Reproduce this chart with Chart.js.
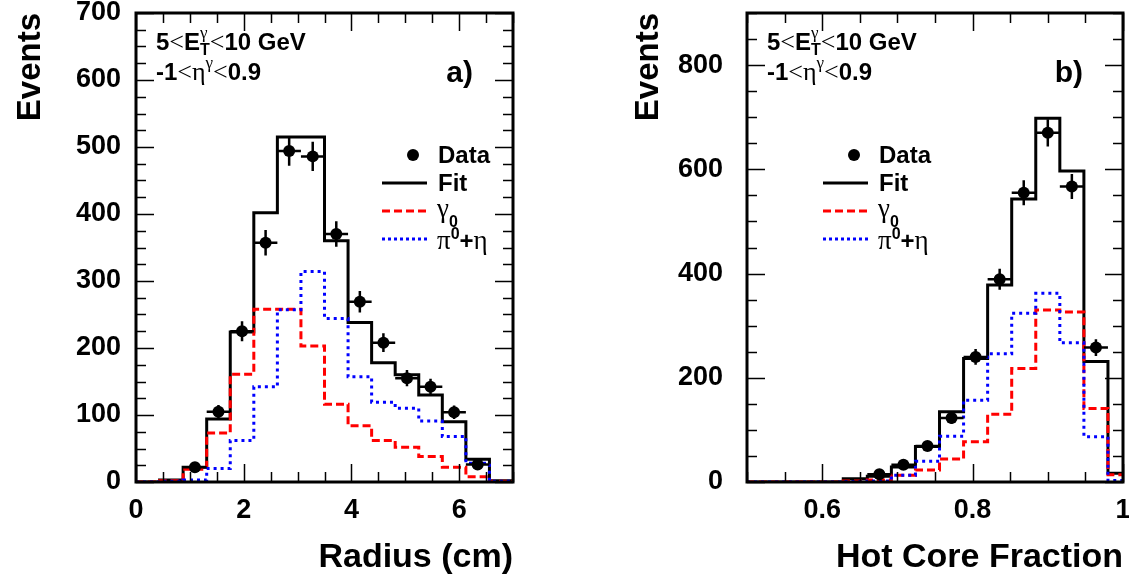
<!DOCTYPE html>
<html>
<head>
<meta charset="utf-8">
<script src="https://cdn.jsdelivr.net/npm/chart.js@4.4.1/dist/chart.umd.min.js"></script>
<style>
  html, body { margin: 0; padding: 0; background: #fff; }
  body { width: 1129px; height: 583px; position: relative; overflow: hidden; }
  .panel { position: absolute; top: 0; }
  #left { left: 0; }
  #right { left: 618px; }
</style>
</head>
<body>
<div class="panel" id="left"><canvas id="radiusChart" width="560" height="583"></canvas></div>
<div class="panel" id="right"><canvas id="hotCoreChart" width="511" height="583"></canvas></div>
<script>
// ---- panel a) shower radius ----
const radiusEdges = [0, 0.4375, 0.875, 1.3125, 1.75, 2.1875, 2.625, 3.0625, 3.5,
                     3.9375, 4.375, 4.8125, 5.25, 5.6875, 6.125, 6.5625, 7];
const radiusData  = [null, null, 22, 105, 225, 357, 494, 486, 370, 269, 208, 155, 142, 104, 26, null];
const radiusErr   = [0, 0, 5, 10, 15, 19, 22, 22, 19, 16, 14, 12, 12, 10, 5, 0];
const radiusFit   = [0, 3, 22, 94, 224, 402, 515, 515, 360, 238, 178, 160, 130, 90, 34, 2];
const radiusGamma = [0, 2, 19, 73, 161, 258, 258, 203, 116, 84, 62, 52, 38, 22, 8, 1];
const radiusPi0   = [0, 1, 3, 20, 62, 142, 257, 314, 244, 157, 119, 110, 91, 68, 28, 1];
const radiusXTicks = [0, 2, 4, 6];
const radiusYTicks = [0, 100, 200, 300, 400, 500, 600, 700];

// ---- panel b) hot core fraction ----
const hotEdges = [0.5, 0.532, 0.564, 0.596, 0.628, 0.66, 0.692, 0.724, 0.756,
                  0.788, 0.82, 0.852, 0.884, 0.916, 0.948, 0.98, 1.012];
const hotData  = [null, null, null, null, null, 15, 33, 69, 123, 240, 389, 555, 670, 567, 258, null];
const hotErr   = [0, 0, 0, 0, 0, 4, 6, 8, 11, 15, 20, 24, 26, 24, 16, 0];
const hotFit   = [0, 0, 0, 0, 6, 11, 29, 68, 135, 237, 378, 543, 698, 597, 231, 17];
const hotGamma = [0, 0, 0, 0, 2, 4, 13, 23, 44, 77, 130, 218, 330, 326, 141, 14];
const hotPi0   = [0, 0, 0, 0, 1, 2, 13, 40, 88, 157, 246, 324, 362, 267, 87, 3];
const hotXTicks = [0.6, 0.8, 1];
const hotYTicks = [0, 200, 400, 600, 800];

const B = s => `bold ${s}px "Liberation Sans", Arial, sans-serif`;
const S = s => `${s}px "Liberation Serif", "Times New Roman", serif`;

// histogram outline: one point per left edge, plus the last right edge
const steps = (edges, vals) =>
  vals.map((v, i) => ({ x: edges[i], y: v })).concat([{ x: edges[edges.length - 1], y: vals[vals.length - 1] }]);
const points = (edges, vals) =>
  vals.map((v, i) => v == null ? null : { x: (edges[i] + edges[i + 1]) / 2, y: v, i }).filter(p => p);

// draw a run of text pieces (sub/superscripts) left to right
function textRun(ctx, x, y, parts) {
  parts.forEach(p => {
    ctx.font = p.f;
    ctx.fillText(p.t, x, y + (p.dy || 0));
    if (!p.stack) x += ctx.measureText(p.t).width;
  });
}

const rootFrame = {
  id: 'rootFrame',
  afterDatasetsDraw(chart, args, o) {
    const { ctx, scales: { x, y } } = chart;
    ctx.save();
    ctx.strokeStyle = '#000';
    ctx.lineWidth = 2.5;
    points(o.edges, o.data).forEach(p => {
      const px = x.getPixelForValue(p.x), py = y.getPixelForValue(p.y);
      ctx.beginPath();
      ctx.moveTo(x.getPixelForValue(o.edges[p.i]), py);
      ctx.lineTo(x.getPixelForValue(o.edges[p.i + 1]), py);
      ctx.moveTo(px, y.getPixelForValue(p.y - o.err[p.i]));
      ctx.lineTo(px, y.getPixelForValue(p.y + o.err[p.i]));
      ctx.stroke();
    });
    ctx.restore();
  },
  afterDraw(chart, args, o) {
    const { ctx, chartArea: a, scales: { x, y } } = chart;
    ctx.save();
    ctx.strokeStyle = '#000';
    ctx.fillStyle = '#000';

    // ticks on all four sides, pointing inwards
    ctx.lineWidth = 1.5;
    const tickSet = (min, max, step, major) => {
      const out = [];
      for (let v = min; v <= max + 1e-9; v += step) {
        const isMajor = major.some(m => Math.abs(m - v) < 1e-6);
        out.push({ v, len: isMajor ? 18 : 10 });
      }
      return out;
    };
    ctx.beginPath();
    tickSet(x.min, x.max, o.xMinor, o.xTicks).forEach(t => {
      const px = Math.round(x.getPixelForValue(t.v)) + 0.5;
      ctx.moveTo(px, a.bottom); ctx.lineTo(px, a.bottom - t.len);
      ctx.moveTo(px, a.top); ctx.lineTo(px, a.top + t.len);
    });
    tickSet(y.min, y.max, o.yMinor, o.yTicks).forEach(t => {
      const py = Math.round(y.getPixelForValue(t.v)) + 0.5;
      ctx.moveTo(a.left, py); ctx.lineTo(a.left + t.len, py);
      ctx.moveTo(a.right, py); ctx.lineTo(a.right - t.len, py);
    });
    ctx.stroke();

    // frame
    ctx.lineWidth = 3;
    ctx.strokeRect(a.left, a.top, a.right - a.left, a.bottom - a.top);

    // cut labels
    ctx.textBaseline = 'alphabetic';
    ctx.textAlign = 'left';
    const nx = a.left + 20;
    textRun(ctx, nx, a.top + 37, [
      { t: '5', f: B(24) }, { t: '<', f: S(26) }, { t: 'E', f: B(24) },
      { t: 'γ', f: S(17), dy: -12, stack: true }, { t: 'T', f: B(16), dy: 5 },
      { t: '<', f: S(26) }, { t: '10 GeV', f: B(24) }
    ]);
    textRun(ctx, nx, a.top + 67, [
      { t: '-1', f: B(24) }, { t: '<', f: S(26) }, { t: 'η', f: S(26) },
      { t: 'γ', f: S(17), dy: -12 }, { t: '<', f: S(26) }, { t: '0.9', f: B(24) }
    ]);
    ctx.textAlign = 'right';
    ctx.font = B(30);
    ctx.fillText(o.tag, a.right - 40, a.top + 69);

    // legend
    ctx.textAlign = 'left';
    const lx = a.left + o.legendX, ly = a.top + 142, tx = lx + 56;
    ctx.beginPath();
    ctx.arc(lx + 31, ly, 6, 0, Math.PI * 2);
    ctx.fill();
    ctx.font = B(24);
    ctx.fillText('Data', tx, ly + 8);

    const sample = (row, color, dash) => {
      ctx.beginPath();
      ctx.setLineDash(dash);
      ctx.strokeStyle = color;
      ctx.lineWidth = 3;
      ctx.moveTo(lx, ly + row * 28);
      ctx.lineTo(lx + 45, ly + row * 28);
      ctx.stroke();
      ctx.setLineDash([]);
    };
    sample(1, '#000', []);
    sample(2, '#ff0000', [8, 4]);
    sample(3, '#0000ff', [3, 3]);
    ctx.font = B(24);
    ctx.fillText('Fit', tx, ly + 28 + 8);
    textRun(ctx, tx - 1, ly + 56 + 6, [{ t: 'γ', f: S(27) }, { t: '0', f: B(16), dy: 10 }]);
    textRun(ctx, tx - 1, ly + 84 + 10, [
      { t: 'π', f: S(27) }, { t: '0', f: B(16), dy: -10 }, { t: '+', f: B(24) }, { t: 'η', f: S(27) }
    ]);
    ctx.restore();
  }
};

function makeHist(id, cfg) {
  return new Chart(document.getElementById(id), {
    type: 'line',
    data: {
      datasets: [
        { label: 'Data', data: points(cfg.edges, cfg.data), showLine: false,
          pointRadius: 6, pointBackgroundColor: '#000', pointBorderColor: '#000', pointBorderWidth: 0 },
        { label: 'pi0+eta', data: steps(cfg.edges, cfg.pi0), stepped: true,
          borderColor: '#0000ff', borderDash: [3, 4], borderWidth: 3, pointRadius: 0 },
        { label: 'gamma0', data: steps(cfg.edges, cfg.gamma), stepped: true,
          borderColor: '#ff0000', borderDash: [8, 4], borderWidth: 3, pointRadius: 0 },
        { label: 'Fit', data: steps(cfg.edges, cfg.fit), stepped: true,
          borderColor: '#000', borderWidth: 3, pointRadius: 0 }
      ]
    },
    options: {
      responsive: false,
      animation: false,
      layout: { padding: { top: 13, right: cfg.padRight, left: 0, bottom: 0 } },
      scales: {
        x: {
          type: 'linear', min: cfg.xMin, max: cfg.xMax,
          afterBuildTicks: s => { s.ticks = cfg.xTicks.map(v => ({ value: v })); },
          ticks: { font: { family: '"Liberation Sans", Arial', size: 27, weight: 'bold' }, color: '#000',
                   padding: 4, maxRotation: 0, autoSkip: false, callback: v => String(v) },
          grid: { display: false }, border: { display: false },
          title: { display: true, text: cfg.xTitle, align: 'end', color: '#000',
                   font: { family: '"Liberation Sans", Arial', size: 34, weight: 'bold' },
                   padding: { top: 0, bottom: 5 } },
          afterFit: s => { s.height = 101; s.paddingLeft = 0; s.paddingRight = 0; }
        },
        y: {
          type: 'linear', min: 0, max: cfg.yMax,
          afterBuildTicks: s => { s.ticks = cfg.yTicks.map(v => ({ value: v })); },
          ticks: { font: { family: '"Liberation Sans", Arial', size: 27, weight: 'bold' }, color: '#000',
                   padding: cfg.yPad, callback: v => String(v) },
          grid: { display: false }, border: { display: false },
          title: { display: true, text: 'Events', align: 'end', color: '#000',
                   font: { family: '"Liberation Sans", Arial', size: 33, weight: 'bold' },
                   padding: { top: 11, bottom: 0 } },
          afterFit: s => { s.width = cfg.yWidth; s.paddingTop = 0; s.paddingBottom = 0; }
        }
      },
      plugins: {
        legend: { display: false },
        tooltip: { enabled: false },
        rootFrame: {
          edges: cfg.edges, data: cfg.data, err: cfg.err,
          xTicks: cfg.xTicks, yTicks: cfg.yTicks, xMinor: cfg.xMinor, yMinor: cfg.yMinor,
          legendX: cfg.legendX, tag: cfg.tag
        }
      }
    },
    plugins: [rootFrame]
  });
}

makeHist('radiusChart', {
  edges: radiusEdges, data: radiusData, err: radiusErr,
  fit: radiusFit, gamma: radiusGamma, pi0: radiusPi0,
  xMin: 0, xMax: 7, yMax: 700, xTicks: radiusXTicks, yTicks: radiusYTicks,
  xMinor: 0.5, yMinor: 25, xTitle: 'Radius (cm)', tag: 'a)',
  yWidth: 136, yPad: 7, padRight: 47, legendX: 246
});

makeHist('hotCoreChart', {
  edges: hotEdges, data: hotData, err: hotErr,
  fit: hotFit, gamma: hotGamma, pi0: hotPi0,
  xMin: 0.5, xMax: 1, yMax: 900, xTicks: hotXTicks, yTicks: hotYTicks,
  xMinor: 0.05, yMinor: 50, xTitle: 'Hot Core Fraction', tag: 'b)',
  yWidth: 129, yPad: 16, padRight: 6, legendX: 76
});
</script>
</body>
</html>
